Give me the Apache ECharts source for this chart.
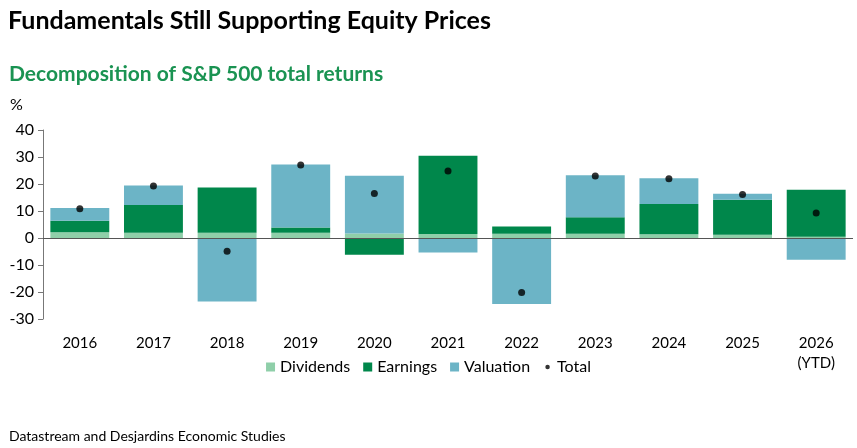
<!DOCTYPE html>
<html>
<head>
<meta charset="utf-8">
<script src="https://cdn.jsdelivr.net/npm/echarts@6/dist/echarts.min.js"></script>
<style>
  html, body { margin: 0; padding: 0; background: #fff; }
  #chart { width: 857px; height: 448px; }
</style>
</head>
<body>
<div id="chart"></div>
<script>
// 数据
var years = ['2016', '2017', '2018', '2019', '2020', '2021', '2022', '2023', '2024', '2025', '2026\n(YTD)'];
var dividends = [2.1, 1.9, 1.9, 1.9, 1.7, 1.5, 1.6, 1.6, 1.4, 1.2, 0.5];
var earnings = [4.3, 10.3, 16.8, 2.0, -6.2, 29.0, 2.7, 6.1, 11.2, 13.0, 17.4];
var valuation = [4.7, 7.2, -23.5, 23.3, 21.4, -5.4, -24.4, 15.5, 9.5, 2.2, -8.1];
var total = [10.8, 19.3, -4.9, 27.0, 16.5, 24.8, -20.2, 23.0, 21.9, 16.1, 9.3];

var font = 'Lato, "Open Sans", sans-serif';

var myChart = echarts.init(document.getElementById('chart'));

var option = {
	animation: false,
	textStyle: { fontFamily: font },
	title: [{
		text: 'Fundamentals Still Supporting Equity Prices',
		left: 3,
		top: 3,
		textStyle: { fontSize: 25, fontWeight: 'bold', color: '#000', fontFamily: font }
	}, {
		text: 'Decomposition of S&P 500 total returns',
		left: 4,
		top: 59,
		textStyle: { fontSize: 21, fontWeight: 'bold', color: '#1a9352', fontFamily: font }
	}, {
		text: '%',
		left: 5,
		top: 92,
		textStyle: { fontSize: 16, fontWeight: 'normal', color: '#000', fontFamily: font }
	}, {
		text: 'Datastream and Desjardins Economic Studies',
		left: 4,
		top: 424,
		textStyle: { fontSize: 14, fontWeight: 'normal', color: '#000', fontFamily: font }
	}],
	legend: {
		bottom: 68,
		left: 'center',
		itemWidth: 9,
		itemHeight: 9,
		itemGap: 13,
		textStyle: { fontSize: 16, color: '#000', fontFamily: font },
		data: [
			{ name: 'Dividends', icon: 'rect' },
			{ name: 'Earnings', icon: 'rect' },
			{ name: 'Valuation', icon: 'rect' },
			{ name: 'Total', icon: 'path://M0,0M10,10M2.5,5a2.5,2.5 0 1,0 5,0a2.5,2.5 0 1,0 -5,0' }
		]
	},
	grid: {
		left: 43,
		right: 4,
		top: 130,
		bottom: 129
	},
	xAxis: {
		type: 'category',
		data: years,
		axisLine: { show: false, onZero: false },
		axisTick: { show: false },
		axisLabel: { fontSize: 15, color: '#000', margin: 14, lineHeight: 20, fontFamily: font }
	},
	yAxis: {
		type: 'value',
		min: -30,
		max: 40,
		interval: 10,
		splitLine: { show: false },
		axisLine: { show: true, lineStyle: { color: '#777' } },
		axisTick: { show: true, inside: false, length: 5, lineStyle: { color: '#777' } },
		axisLabel: { fontSize: 16, color: '#000', margin: 9, fontFamily: font }
	},
	series: [{
		name: 'Dividends',
		type: 'bar',
		stack: 'ret',
		barCategoryGap: '20%',
		itemStyle: { color: '#8fcfa9' },
		data: dividends,
		markLine: {
			silent: true,
			symbol: 'none',
			label: { show: false },
			lineStyle: { color: '#555', width: 1, type: 'solid' },
			data: [{ yAxis: 0 }]
		}
	}, {
		name: 'Earnings',
		type: 'bar',
		stack: 'ret',
		itemStyle: { color: '#00874b' },
		data: earnings
	}, {
		name: 'Valuation',
		type: 'bar',
		stack: 'ret',
		itemStyle: { color: '#6cb4c6' },
		data: valuation
	}, {
		name: 'Total',
		type: 'scatter',
		symbol: 'circle',
		symbolSize: 7,
		itemStyle: { color: '#000' },
		z: 5,
		data: total
	}]
};

myChart.setOption(option);
</script>
</body>
</html>
